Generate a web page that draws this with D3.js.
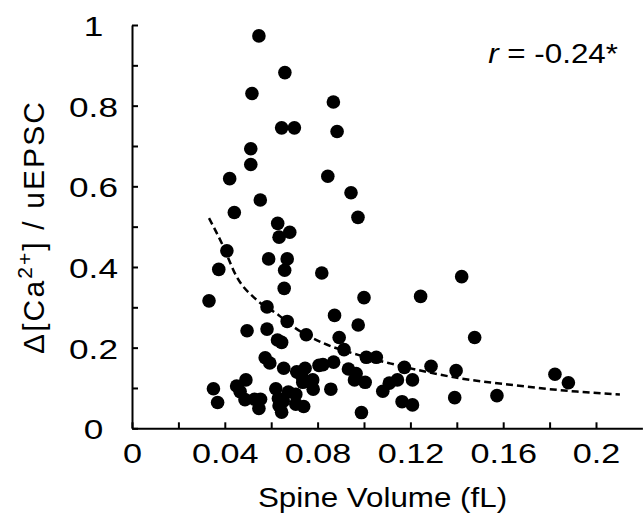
<!DOCTYPE html>
<html>
<head>
<meta charset="utf-8">
<script src="https://cdn.jsdelivr.net/npm/d3@7/dist/d3.min.js"></script>
<style>
  html, body { margin: 0; padding: 0; background: #fff; }
  svg { display: block; }
  text { font-family: "Liberation Sans", Arial, Helvetica, sans-serif; fill: #000; }
</style>
</head>
<body>
<svg id="chart" width="643" height="515"></svg>
<script>
// ---- data ----
const spineVolume = [
  0.0547, 0.0659, 0.0517, 0.0868, 0.0645, 0.0700, 0.0884, 0.0512, 0.0512, 0.0421,
  0.0844, 0.0944, 0.0553, 0.0441, 0.0974, 0.0628, 0.0634, 0.0680, 0.0409, 0.0589,
  0.0669, 0.0374, 0.0658, 0.0818, 0.1421, 0.0656, 0.1000, 0.1244, 0.0332, 0.0582,
  0.0873, 0.0669, 0.0975, 0.0496, 0.0582, 0.0751, 0.0893, 0.1477, 0.0627, 0.0645,
  0.0914, 0.0574, 0.0594, 0.1010, 0.1053, 0.0654, 0.0710, 0.0746, 0.0731, 0.0806,
  0.0823, 0.0869, 0.0933, 0.0966, 0.0959, 0.1005, 0.1174, 0.1289, 0.1397, 0.1823,
  0.1881, 0.1391, 0.1573, 0.1209, 0.1144, 0.1109, 0.1081, 0.1164, 0.1209, 0.0989,
  0.0779, 0.0736, 0.0857, 0.0781, 0.0491, 0.0451, 0.0466, 0.0487, 0.0528, 0.0554,
  0.0547, 0.0351, 0.0369, 0.0620, 0.0674, 0.0706, 0.0631, 0.0652, 0.0634, 0.0645,
  0.0706, 0.0740
];
const caRatio = [
  0.973, 0.882, 0.830, 0.809, 0.745, 0.745, 0.736, 0.693, 0.654, 0.619,
  0.625, 0.584, 0.566, 0.535, 0.523, 0.508, 0.474, 0.486, 0.440, 0.420,
  0.420, 0.394, 0.392, 0.385, 0.376, 0.347, 0.324, 0.327, 0.316, 0.301,
  0.280, 0.265, 0.256, 0.242, 0.246, 0.232, 0.225, 0.225, 0.219, 0.213,
  0.195, 0.175, 0.162, 0.176, 0.176, 0.149, 0.140, 0.149, 0.130, 0.156,
  0.158, 0.164, 0.147, 0.136, 0.120, 0.114, 0.151, 0.154, 0.143, 0.134,
  0.113, 0.076, 0.081, 0.120, 0.120, 0.112, 0.092, 0.066, 0.058, 0.039,
  0.120, 0.114, 0.097, 0.097, 0.120, 0.105, 0.091, 0.071, 0.072, 0.072,
  0.049, 0.098, 0.064, 0.098, 0.090, 0.084, 0.074, 0.067, 0.056, 0.040,
  0.060, 0.054
];
// dashed fit curve
const fitX = [0.0332, 0.0387, 0.0451, 0.0538, 0.0631, 0.0695, 0.0825, 0.0975, 0.1112, 0.1414, 0.1644, 0.1917, 0.2103];
const fitY = [0.521, 0.459, 0.376, 0.318, 0.281, 0.252, 0.211, 0.182, 0.161, 0.124, 0.107, 0.091, 0.084];

const xTicks = [0, 0.02, 0.04, 0.06, 0.08, 0.10, 0.12, 0.14, 0.16, 0.18, 0.20];
const xTickLabels = ["0", "", "0.04", "", "0.08", "", "0.12", "", "0.16", "", "0.2"];
const yTicks = [0, 0.1, 0.2, 0.3, 0.4, 0.5, 0.6, 0.7, 0.8, 0.9, 1.0];
const yTickLabels = ["0", "", "0.2", "", "0.4", "", "0.6", "", "0.8", "", "1"];
const xTitle = "Spine Volume (fL)";
const corrText = "-0.24*";

// ---- layout ----
const svg = d3.select("#chart");
const x0 = 132, xEnd = 642.4, yBottom = 428.3, yTop = 25;
const x = d3.scaleLinear().domain([0, 0.22]).range([x0, xEnd]);
const y = d3.scaleLinear().domain([0, 1]).range([yBottom, yTop]);
const SX = 1.2; // horizontal glyph stretch seen in reference text

// axes
const xAxis = d3.axisBottom(x).tickValues(xTicks).tickSize(-6).tickSizeOuter(0)
  .tickFormat((d, i) => xTickLabels[i]).tickPadding(0);
const gx = svg.append("g").attr("transform", `translate(0,${yBottom})`).call(xAxis);
gx.select(".domain").attr("stroke", "#000").attr("stroke-width", 2);
gx.selectAll(".tick line").attr("stroke", "#000").attr("stroke-width", 2);
gx.selectAll(".tick text")
  .attr("y", 0).attr("dy", null)
  .attr("font-size", 28.5)
  .attr("text-anchor", "middle")
  .attr("transform", `translate(0,35) scale(${SX},1)`);

const yAxis = d3.axisLeft(y).tickValues(yTicks).tickSize(-6).tickSizeOuter(0)
  .tickFormat((d, i) => yTickLabels[i]);
const gy = svg.append("g").attr("transform", `translate(${x0},0)`).call(yAxis);
gy.select(".domain").attr("stroke", "#000").attr("stroke-width", 2);
gy.selectAll(".tick line").attr("stroke", "#000").attr("stroke-width", 2);
gy.selectAll(".tick text")
  .attr("x", 0).attr("dy", null)
  .attr("font-size", 27.5)
  .attr("text-anchor", "middle")
  .attr("transform", `translate(-38.5,10.5) scale(1.28,1)`);
svg.selectAll(".domain").attr("fill", "none");

// fitted dashed curve
const fitData = fitX.map((v, i) => [v, fitY[i]]);
svg.append("path")
  .datum(fitData)
  .attr("fill", "none")
  .attr("stroke", "#000")
  .attr("stroke-width", 2.5)
  .attr("stroke-dasharray", "7,4")
  .attr("d", d3.line().x(d => x(d[0])).y(d => y(d[1])).curve(d3.curveMonotoneX));

// points
const pts = spineVolume.map((v, i) => [v, caRatio[i]]);
svg.append("g").selectAll("circle").data(pts).join("circle")
  .attr("cx", d => x(d[0]))
  .attr("cy", d => y(d[1]))
  .attr("r", 6.8)
  .attr("fill", "#000");

// axis titles
svg.append("g").attr("transform", `translate(382.5,507.3) scale(1.12,1)`)
  .append("text").attr("text-anchor", "middle").attr("font-size", 28).text(xTitle);

const yt = svg.append("text")
  .attr("transform", "translate(43.5,228) rotate(-90)")
  .attr("text-anchor", "middle")
  .attr("font-size", 30)
  .attr("textLength", 252)
  .attr("lengthAdjust", "spacing");
yt.append("tspan").text("Δ[Ca");
yt.append("tspan").attr("font-size", 21).attr("dy", -12).text("2+");
yt.append("tspan").attr("dy", 12).text("] / uEPSC");

// correlation annotation
const ct = svg.append("g").attr("transform", `translate(618,63.3) scale(1.12,1)`)
  .append("text").attr("text-anchor", "end").attr("font-size", 28);
ct.append("tspan").attr("font-style", "italic").text("r");
ct.append("tspan").text(" = " + corrText);
</script>
</body>
</html>
